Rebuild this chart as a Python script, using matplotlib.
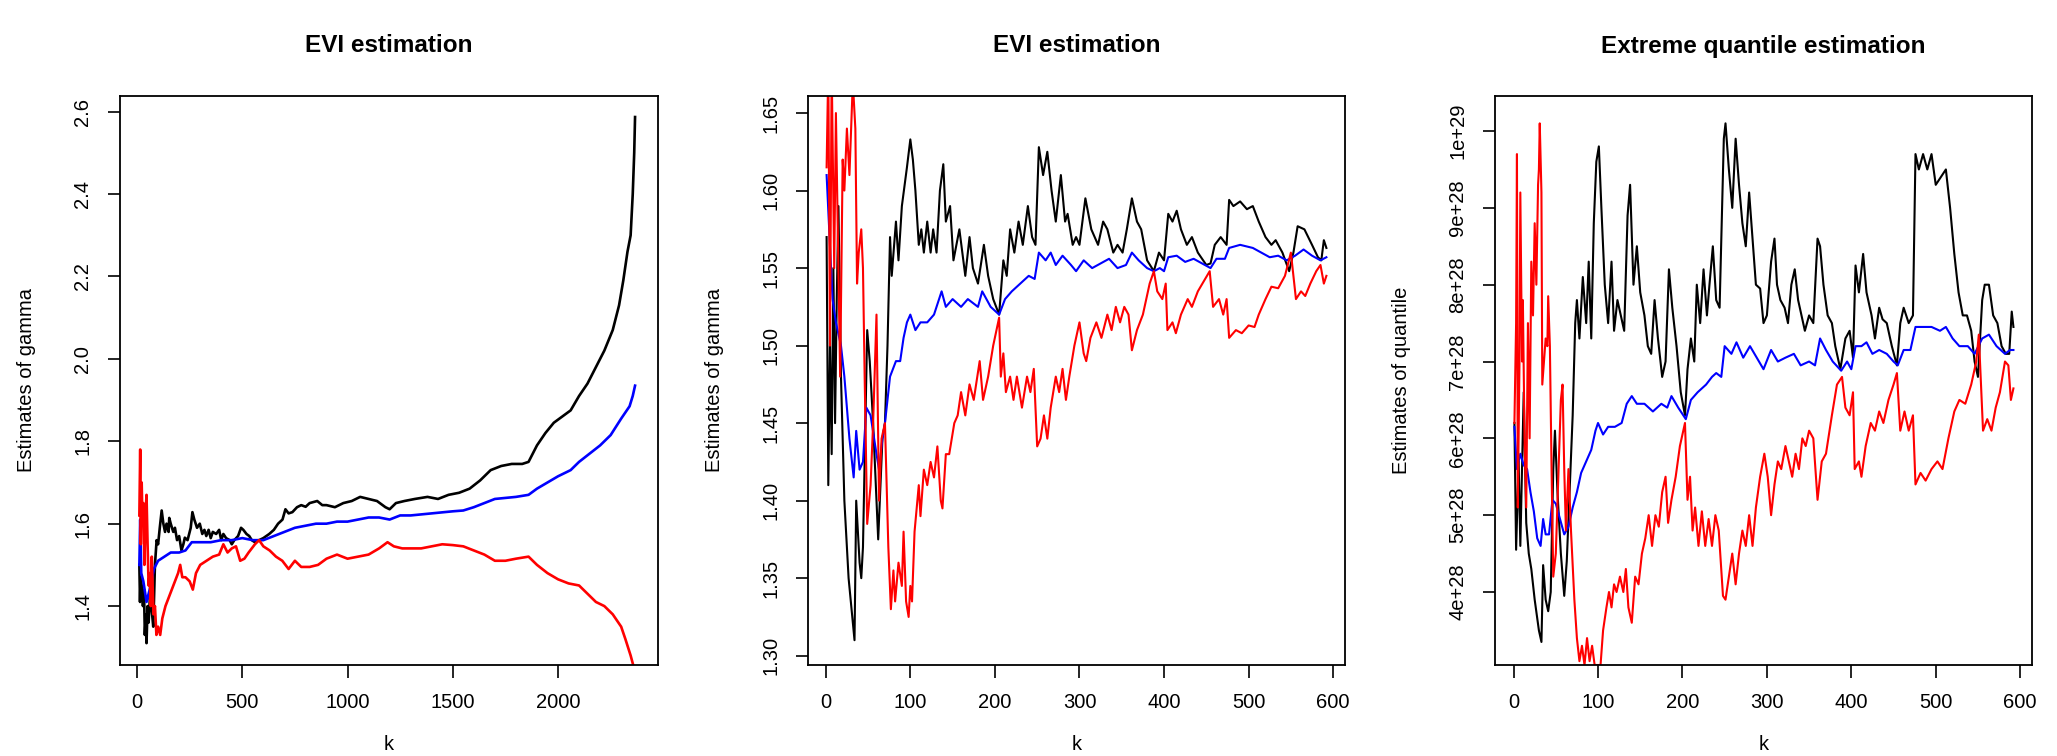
import matplotlib.pyplot as plt
import numpy as np

plt.rcParams['font.family'] = ['Liberation Sans', 'DejaVu Sans']

# ---- panel 1: EVI estimation, full range of k ----
p1_black_k = [11, 14, 17, 22, 28, 33, 37, 42, 45, 50, 55, 61, 68, 77, 85, 93, 100, 108, 117, 125,
              133, 140, 150, 153, 160, 172, 180, 190, 200, 211, 220, 227, 240, 255, 263, 272, 285,
              298, 310, 320, 329, 340, 350, 360, 376, 390, 400, 410, 423, 440, 450, 462, 480, 494,
              505, 520, 533, 545, 560, 580, 600, 628, 650, 670, 691, 705, 720, 738, 760, 780, 801,
              820, 856, 880, 900, 940, 980, 1020, 1060, 1100, 1140, 1180, 1200, 1230, 1270, 1320,
              1380, 1430, 1480, 1530, 1580, 1630, 1680, 1730, 1780, 1830, 1860, 1900, 1940, 1980,
              2020, 2060, 2100, 2140, 2180, 2220, 2260, 2290, 2310, 2330, 2345, 2355, 2362, 2366]
p1_black = [1.50, 1.41, 1.47, 1.45, 1.40, 1.44, 1.33, 1.38, 1.31, 1.40, 1.36, 1.42, 1.40, 1.35,
            1.50, 1.56, 1.55, 1.59, 1.632, 1.60, 1.58, 1.60, 1.58, 1.614, 1.60, 1.58, 1.59, 1.56,
            1.57, 1.535, 1.55, 1.566, 1.56, 1.59, 1.628, 1.61, 1.59, 1.60, 1.575, 1.585, 1.57,
            1.585, 1.565, 1.58, 1.575, 1.585, 1.56, 1.575, 1.565, 1.56, 1.55, 1.56, 1.57, 1.59,
            1.585, 1.575, 1.57, 1.56, 1.555, 1.56, 1.565, 1.575, 1.585, 1.60, 1.61, 1.635, 1.625,
            1.628, 1.64, 1.645, 1.641, 1.65, 1.655, 1.645, 1.645, 1.64, 1.65, 1.655, 1.665, 1.66,
            1.655, 1.64, 1.635, 1.65, 1.655, 1.66, 1.665, 1.66, 1.67, 1.675, 1.685, 1.705, 1.73,
            1.74, 1.745, 1.745, 1.75, 1.79, 1.82, 1.845, 1.86, 1.875, 1.91, 1.94, 1.98, 2.02, 2.07,
            2.13, 2.19, 2.26, 2.30, 2.40, 2.50, 2.587]

p1_blue_k = [11, 15, 20, 30, 45, 60, 80, 100, 130, 160, 200, 230, 260, 300, 350, 400, 450, 500, 550,
             600, 650, 700, 750, 800, 850, 900, 950, 1000, 1050, 1100, 1150, 1200, 1250, 1300,
             1400, 1500, 1550, 1600, 1700, 1800, 1860, 1900, 1950, 2000, 2060, 2100, 2150, 2200,
             2250, 2300, 2340, 2355, 2366]
p1_blue = [1.50, 1.61, 1.48, 1.46, 1.41, 1.44, 1.49, 1.51, 1.52, 1.53, 1.53, 1.535, 1.555, 1.555,
           1.555, 1.56, 1.56, 1.565, 1.56, 1.56, 1.57, 1.58, 1.59, 1.595, 1.60, 1.60, 1.605, 1.605,
           1.61, 1.615, 1.615, 1.61, 1.62, 1.62, 1.625, 1.63, 1.632, 1.64, 1.66, 1.665, 1.67,
           1.685, 1.70, 1.715, 1.73, 1.75, 1.77, 1.79, 1.815, 1.855, 1.885, 1.91, 1.935]

p1_red_k = [11, 15, 18, 22, 26, 30, 35, 40, 45, 50, 55, 60, 65, 70, 78, 85, 92, 100, 110, 120, 135,
            150, 165, 180, 195, 205, 215, 230, 250, 265, 280, 300, 330, 360, 390, 410, 430, 450,
            470, 490, 510, 530, 560, 580, 600, 630, 660, 690, 720, 750, 780, 820, 860, 900, 950,
            1000, 1050, 1100, 1150, 1190, 1220, 1260, 1300, 1350, 1400, 1450, 1500, 1550, 1600,
            1650, 1700, 1750, 1800, 1860, 1900, 1950, 2000, 2050, 2100, 2140, 2180, 2220, 2260,
            2300, 2320, 2345, 2366]
p1_red = [1.62, 1.78, 1.55, 1.70, 1.60, 1.65, 1.50, 1.62, 1.67, 1.55, 1.45, 1.48, 1.40, 1.52, 1.38,
          1.40, 1.33, 1.35, 1.33, 1.37, 1.40, 1.42, 1.44, 1.46, 1.48, 1.50, 1.47, 1.47, 1.46, 1.44,
          1.48, 1.50, 1.51, 1.52, 1.525, 1.55, 1.53, 1.54, 1.545, 1.51, 1.515, 1.53, 1.55, 1.56,
          1.545, 1.535, 1.52, 1.51, 1.49, 1.51, 1.495, 1.495, 1.50, 1.515, 1.525, 1.515, 1.52,
          1.525, 1.54, 1.555, 1.545, 1.54, 1.54, 1.54, 1.545, 1.55, 1.548, 1.545, 1.535, 1.525,
          1.51, 1.51, 1.515, 1.52, 1.50, 1.48, 1.465, 1.455, 1.45, 1.43, 1.41, 1.40, 1.38, 1.35,
          1.32, 1.28, 1.24]

# ---- panel 2: EVI estimation, k <= 592 ----
p2_black_k = [1, 3, 5, 7, 9, 11, 13, 15, 18, 22, 27, 34, 36, 40, 42, 44, 49, 52, 56, 60, 62, 67, 70,
              73, 76, 78, 83, 86, 90, 96, 100, 103, 106, 110, 113, 116, 120, 124, 127, 131, 135, 139,
              142, 147, 151, 158, 165, 170, 174, 180, 187, 192, 198, 205, 210, 214, 218, 223, 228,
              233, 239, 244, 248, 252, 257, 262, 267, 272, 278, 283, 286, 292, 296, 300, 307, 314,
              322, 328, 333, 340, 345, 351, 356, 362, 368, 373, 380, 388, 394, 400, 405, 410, 415,
              420, 427, 433, 440, 450, 455, 460, 467, 474, 477, 482, 490, 498, 505, 512, 520, 527,
              532, 540, 548, 553, 558, 566, 575, 582, 586, 589, 592]
p2_black = [1.57, 1.41, 1.50, 1.43, 1.55, 1.45, 1.53, 1.59, 1.48, 1.40, 1.35, 1.31, 1.40, 1.36,
            1.35, 1.37, 1.51, 1.49, 1.45, 1.40, 1.375, 1.44, 1.45, 1.50, 1.57, 1.545, 1.58, 1.555,
            1.59, 1.615, 1.633, 1.62, 1.60, 1.565, 1.575, 1.56, 1.58, 1.56, 1.575, 1.56, 1.60, 1.617,
            1.58, 1.59, 1.555, 1.575, 1.545, 1.57, 1.55, 1.54, 1.565, 1.545, 1.53, 1.52, 1.555,
            1.545, 1.575, 1.56, 1.58, 1.565, 1.59, 1.57, 1.565, 1.628, 1.61, 1.625, 1.60, 1.58,
            1.61, 1.58, 1.585, 1.565, 1.57, 1.565, 1.595, 1.575, 1.565, 1.58, 1.575, 1.56, 1.565,
            1.56, 1.575, 1.595, 1.58, 1.575, 1.555, 1.548, 1.56, 1.555, 1.585, 1.58, 1.587, 1.575,
            1.565, 1.57, 1.56, 1.552, 1.553, 1.565, 1.57, 1.565, 1.594, 1.59, 1.593, 1.588, 1.59,
            1.58, 1.57, 1.565, 1.568, 1.56, 1.548, 1.56, 1.577, 1.575, 1.565, 1.557, 1.555, 1.568,
            1.563]

p2_blue_k = [1, 8, 12, 18, 22, 28, 33, 36, 40, 44, 48, 53, 60, 63, 67, 70, 76, 83, 88, 92, 96, 100,
             106, 112, 120, 128, 137, 142, 150, 160, 168, 180, 185, 195, 205, 212, 220, 230, 240,
             247, 252, 260, 266, 272, 280, 290, 296, 305, 315, 325, 335, 345, 355, 362, 370, 380,
             388, 395, 400, 405, 415, 425, 435, 445, 455, 462, 472, 477, 490, 505, 515, 525, 535,
             545, 555, 565, 575, 585, 592]
p2_blue = [1.61, 1.53, 1.515, 1.50, 1.48, 1.44, 1.415, 1.445, 1.42, 1.425, 1.46, 1.455, 1.43, 1.42,
           1.44, 1.45, 1.48, 1.49, 1.49, 1.505, 1.515, 1.52, 1.51, 1.515, 1.515, 1.52, 1.535, 1.525,
           1.53, 1.525, 1.53, 1.525, 1.535, 1.525, 1.52, 1.53, 1.535, 1.54, 1.545, 1.543, 1.56,
           1.555, 1.56, 1.552, 1.558, 1.552, 1.548, 1.555, 1.55, 1.553, 1.556, 1.55, 1.552, 1.56,
           1.555, 1.55, 1.548, 1.55, 1.548, 1.557, 1.558, 1.554, 1.556, 1.553, 1.55, 1.556, 1.556,
           1.563, 1.565, 1.563, 1.56, 1.557, 1.558, 1.555, 1.558, 1.562, 1.558, 1.555, 1.557]

p2_red_k = [1, 3, 5, 7, 10, 12, 17, 20, 22, 25, 28, 32, 35, 37, 39, 42, 44, 46, 49, 53, 56, 60, 63,
            66, 70, 74, 77, 80, 82, 86, 90, 92, 95, 98, 100, 102, 105, 110, 112, 116, 120, 124, 128,
            132, 136, 138, 142, 146, 152, 156, 160, 165, 170, 175, 182, 186, 192, 198, 205, 207, 210,
            213, 218, 222, 226, 232, 238, 242, 246, 250, 254, 258, 262, 266, 272, 276, 280, 284, 288,
            294, 300, 305, 308, 313, 320, 326, 333, 338, 343, 348, 353, 358, 362, 368, 375, 383,
            388, 392, 398, 402, 404, 410, 414, 420, 428, 433, 440, 454, 458, 465, 470, 474, 477,
            485, 492, 500, 507, 512, 520, 527, 535, 543, 550, 556, 562, 567, 573, 580, 585, 589, 592]
p2_red = [1.615, 1.68, 1.50, 1.68, 1.55, 1.65, 1.48, 1.62, 1.60, 1.64, 1.61, 1.67, 1.64, 1.54, 1.56,
          1.575, 1.55, 1.48, 1.385, 1.41, 1.45, 1.52, 1.40, 1.44, 1.45, 1.37, 1.33, 1.355, 1.335,
          1.36, 1.345, 1.38, 1.335, 1.325, 1.345, 1.335, 1.38, 1.41, 1.39, 1.42, 1.41, 1.425, 1.415,
          1.435, 1.40, 1.395, 1.43, 1.43, 1.45, 1.455, 1.47, 1.455, 1.475, 1.465, 1.49, 1.465, 1.48,
          1.50, 1.518, 1.48, 1.495, 1.47, 1.48, 1.465, 1.48, 1.46, 1.48, 1.47, 1.485, 1.435, 1.44,
          1.455, 1.44, 1.46, 1.48, 1.47, 1.485, 1.465, 1.48, 1.50, 1.515, 1.495, 1.49, 1.505, 1.515,
          1.505, 1.52, 1.51, 1.525, 1.515, 1.525, 1.52, 1.497, 1.51, 1.52, 1.54, 1.548, 1.535, 1.53,
          1.54, 1.51, 1.515, 1.508, 1.52, 1.53, 1.525, 1.535, 1.548, 1.525, 1.53, 1.52, 1.53, 1.505,
          1.51, 1.508, 1.513, 1.512, 1.52, 1.53, 1.538, 1.537, 1.545, 1.56, 1.53, 1.535, 1.532,
          1.54, 1.548, 1.552, 1.54, 1.545]

# ---- panel 3: extreme quantile estimation (values in units of 1e28) ----
p3_black_k = [1, 3, 6, 8, 12, 15, 18, 21, 25, 30, 33, 35, 38, 41, 44, 47, 49, 52, 56, 60, 63, 66, 70,
              73, 75, 78, 82, 86, 89, 92, 95, 98, 101, 104, 108, 112, 116, 119, 123, 127, 131, 135,
              138, 142, 146, 150, 155, 159, 163, 167, 171, 176, 180, 184, 188, 193, 198, 203, 206,
              210, 214, 217, 221, 225, 229, 232, 236, 240, 244, 249, 251, 255, 259, 263, 267, 271,
              275, 279, 283, 287, 292, 296, 300, 305, 309, 312, 316, 321, 325, 329, 333, 337, 341,
              345, 350, 355, 360, 363, 367, 372, 377, 381, 387, 393, 398, 402, 405, 409, 414, 418,
              424, 428, 433, 437, 442, 448, 454, 458, 462, 468, 473, 476, 480, 485, 490, 495, 500,
              506, 512, 517, 522, 527, 532, 537, 542, 546, 550, 555, 558, 563, 568, 573, 578, 583,
              587, 590, 592]
p3_black = [6.2, 4.55, 5.7, 4.6, 6.6, 4.9, 4.5, 4.3, 3.9, 3.5, 3.35, 4.35, 3.9, 3.75, 4.0, 5.6, 6.1,
            5.3, 4.5, 3.95, 4.4, 5.2, 6.3, 7.5, 7.8, 7.3, 8.1, 7.5, 8.3, 7.3, 8.8, 9.6, 9.8, 9.0, 8.0,
            7.5, 8.3, 7.4, 7.8, 7.6, 7.4, 8.9, 9.3, 8.0, 8.5, 7.9, 7.6, 7.2, 7.1, 7.8, 7.3, 6.8, 7.0,
            8.2, 7.7, 7.2, 6.6, 6.3, 6.9, 7.3, 7.0, 8.0, 7.5, 8.2, 7.6, 8.0, 8.5, 7.8, 7.7, 9.9, 10.1,
            9.5, 9.0, 9.9, 9.3, 8.8, 8.5, 9.2, 8.6, 8.0, 7.95, 7.5, 7.6, 8.3, 8.6, 8.0, 7.8, 7.7, 7.5,
            8.0, 8.2, 7.8, 7.6, 7.4, 7.6, 7.5, 8.6, 8.5, 8.0, 7.6, 7.5, 7.2, 6.9, 7.3, 7.4, 7.05,
            8.25, 7.9, 8.4, 7.9, 7.6, 7.3, 7.7, 7.55, 7.5, 7.2, 6.95, 7.5, 7.7, 7.5, 7.6, 9.7, 9.5,
            9.7, 9.5, 9.7, 9.3, 9.4, 9.5, 9.0, 8.4, 7.9, 7.6, 7.6, 7.4, 7.0, 6.8, 7.8, 8.0, 8.0, 7.6,
            7.5, 7.2, 7.1, 7.1, 7.65, 7.45]

p3_blue_k = [1, 4, 8, 12, 16, 20, 24, 28, 32, 35, 38, 42, 46, 50, 55, 60, 65, 70, 75, 80, 86, 92, 97,
             100, 106, 112, 120, 128, 134, 140, 146, 155, 165, 175, 182, 187, 195, 204, 210, 218,
             228, 235, 240, 246, 250, 258, 264, 272, 280, 288, 296, 305, 313, 322, 332, 340, 350,
             357, 363, 370, 378, 388, 395, 400, 405, 412, 418, 425, 433, 442, 450, 455, 462, 470,
             476, 485, 495, 505, 512, 520, 528, 538, 546, 555, 563, 572, 582, 588, 592]
p3_blue = [6.15, 5.6, 5.8, 5.65, 5.6, 5.3, 5.05, 4.7, 4.6, 4.95, 4.75, 4.75, 5.2, 5.15, 4.95, 4.75,
           4.85, 5.1, 5.3, 5.55, 5.7, 5.85, 6.1, 6.2, 6.05, 6.15, 6.15, 6.2, 6.45, 6.55, 6.45, 6.45,
           6.35, 6.45, 6.4, 6.55, 6.4, 6.25, 6.5, 6.6, 6.7, 6.8, 6.85, 6.8, 7.2, 7.1, 7.25, 7.05,
           7.2, 7.05, 6.9, 7.15, 7.0, 7.05, 7.1, 6.95, 7.0, 6.95, 7.3, 7.15, 7.0, 6.88, 7.0, 6.9,
           7.2, 7.2, 7.25, 7.1, 7.15, 7.1, 7.0, 6.95, 7.15, 7.15, 7.45, 7.45, 7.45, 7.4, 7.45, 7.3,
           7.2, 7.2, 7.1, 7.3, 7.35, 7.2, 7.1, 7.15, 7.15]

p3_red_k = [1, 3, 4, 5, 7, 8, 10, 11, 13, 15, 17, 19, 21, 23, 25, 27, 29, 30, 31, 33, 34, 38, 40, 41,
            43, 45, 47, 50, 53, 56, 58, 60, 62, 65, 68, 72, 75, 78, 81, 84, 87, 90, 93, 96, 100, 103,
            106, 110, 113, 116, 119, 122, 126, 130, 133, 136, 140, 144, 148, 152, 156, 160, 164,
            168, 172, 176, 180, 183, 187, 192, 197, 203, 206, 209, 212, 215, 219, 223, 227, 231,
            235, 239, 243, 248, 251, 255, 259, 263, 267, 271, 275, 279, 283, 287, 292, 297, 301,
            305, 309, 313, 317, 322, 326, 330, 334, 338, 342, 346, 350, 355, 360, 365, 370, 377,
            383, 389, 393, 398, 402, 404, 409, 412, 417, 423, 428, 433, 438, 444, 450, 454, 458,
            463, 468, 473, 476, 482, 488, 495, 502, 508, 515, 522, 528, 535, 542, 548, 551, 556,
            561, 566, 571, 576, 582, 586, 589, 592]
p3_red = [6.2, 7.5, 9.7, 5.1, 7.0, 9.2, 7.0, 7.8, 6.0, 5.1, 7.5, 6.0, 8.3, 7.6, 8.8, 8.0, 9.3, 9.5,
          10.1, 9.2, 6.7, 7.3, 7.2, 7.85, 7.2, 5.6, 4.2, 4.5, 5.5, 6.5, 6.7, 5.6, 4.8, 5.6, 4.8,
          3.9, 3.4, 3.1, 3.3, 3.05, 3.4, 3.1, 3.3, 3.05, 3.05, 3.05, 3.5, 3.8, 4.0, 3.8, 4.1, 4.0,
          4.2, 4.0, 4.3, 3.8, 3.6, 4.2, 4.1, 4.5, 4.7, 5.0, 4.6, 5.0, 4.85, 5.3, 5.5, 4.9, 5.2, 5.5,
          5.9, 6.2, 5.2, 5.5, 4.8, 5.1, 4.6, 5.05, 4.6, 4.95, 4.6, 5.0, 4.8, 3.95, 3.9, 4.2, 4.5,
          4.1, 4.5, 4.8, 4.6, 5.0, 4.6, 5.1, 5.5, 5.8, 5.5, 5.0, 5.4, 5.7, 5.6, 5.9, 5.7, 5.5, 5.8,
          5.6, 6.0, 5.9, 6.1, 6.0, 5.2, 5.7, 5.8, 6.3, 6.7, 6.8, 6.4, 6.3, 6.6, 5.6, 5.7, 5.5, 5.9,
          6.2, 6.1, 6.35, 6.2, 6.5, 6.7, 6.85, 6.1, 6.35, 6.1, 6.3, 5.4, 5.55, 5.45, 5.6, 5.7, 5.6,
          6.0, 6.35, 6.5, 6.45, 6.7, 7.0, 7.35, 6.1, 6.25, 6.1, 6.4, 6.6, 7.0, 6.95, 6.5, 6.65]

W, H = 2057, 756
fig = plt.figure(figsize=(W / 100, H / 100), dpi=100)

boxes = [(120, 658), (808, 1345), (1495, 2032)]
top, bottom = 96, 665


def make_axes(x0, x1):
    ax = fig.add_axes([x0 / W, (H - bottom) / H, (x1 - x0) / W, (bottom - top) / H])
    for s in ax.spines.values():
        s.set_linewidth(1.3)
    ax.tick_params(direction='out', length=9, width=1.2, labelsize=14.5, pad=11)
    return ax


def finish(ax, title, ylabel, x0, x1):
    w, h = x1 - x0, bottom - top
    ax.text(0.5, 1 + 50 / h, title, transform=ax.transAxes, ha='center', va='center',
            fontsize=17.5, fontweight='bold')
    ax.set_ylabel(ylabel, fontsize=14.5)
    ax.yaxis.set_label_coords(-84 / w, 0.5)
    ax.set_xlabel('k', fontsize=14.5)
    ax.xaxis.set_label_coords(0.5, -70 / h)
    plt.setp(ax.get_yticklabels(), rotation=90, va='center')


# panel 1
ax1 = make_axes(*boxes[0])
ax1.plot(p1_black_k, p1_black, color='black', lw=1.9)
ax1.plot(p1_blue_k, p1_blue, color='blue', lw=1.9)
ax1.plot(p1_red_k, p1_red, color='red', lw=1.9)
ax1.set_xlim(-81, 2475)
ax1.set_ylim(1.257, 2.638)
ax1.set_xticks([0, 500, 1000, 1500, 2000])
ax1.set_yticks([1.4, 1.6, 1.8, 2.0, 2.2, 2.4, 2.6])
ax1.set_yticklabels(['1.4', '1.6', '1.8', '2.0', '2.2', '2.4', '2.6'])
finish(ax1, 'EVI estimation', 'Estimates of gamma', *boxes[0])

lw = 1.5

# panel 2
ax2 = make_axes(*boxes[1])
ax2.plot(p2_black_k, p2_black, color='black', lw=lw)
ax2.plot(p2_blue_k, p2_blue, color='blue', lw=lw)
ax2.plot(p2_red_k, p2_red, color='red', lw=lw)
ax2.set_xlim(-21, 614)
ax2.set_ylim(1.294, 1.661)
ax2.set_xticks([0, 100, 200, 300, 400, 500, 600])
ax2.set_yticks([1.30, 1.35, 1.40, 1.45, 1.50, 1.55, 1.60, 1.65])
ax2.set_yticklabels(['1.30', '1.35', '1.40', '1.45', '1.50', '1.55', '1.60', '1.65'])
finish(ax2, 'EVI estimation', 'Estimates of gamma', *boxes[1])

# panel 3
scale = 1e28
ax3 = make_axes(*boxes[2])
ax3.plot(p3_black_k, np.array(p3_black) * scale, color='black', lw=lw)
ax3.plot(p3_blue_k, np.array(p3_blue) * scale, color='blue', lw=lw)
ax3.plot(p3_red_k, np.array(p3_red) * scale, color='red', lw=lw)
ax3.set_xlim(-22, 614)
ax3.set_ylim(3.05e28, 1.0456e29)
ax3.set_xticks([0, 100, 200, 300, 400, 500, 600])
q_ticks = [4e28, 5e28, 6e28, 7e28, 8e28, 9e28, 1e29]
ax3.set_yticks(q_ticks)
ax3.set_yticklabels(['4e+28', '5e+28', '6e+28', '7e+28', '8e+28', '9e+28', '1e+29'])
finish(ax3, 'Extreme quantile estimation', 'Estimates of quantile', *boxes[2])

fig.savefig('out.png', dpi=100)
